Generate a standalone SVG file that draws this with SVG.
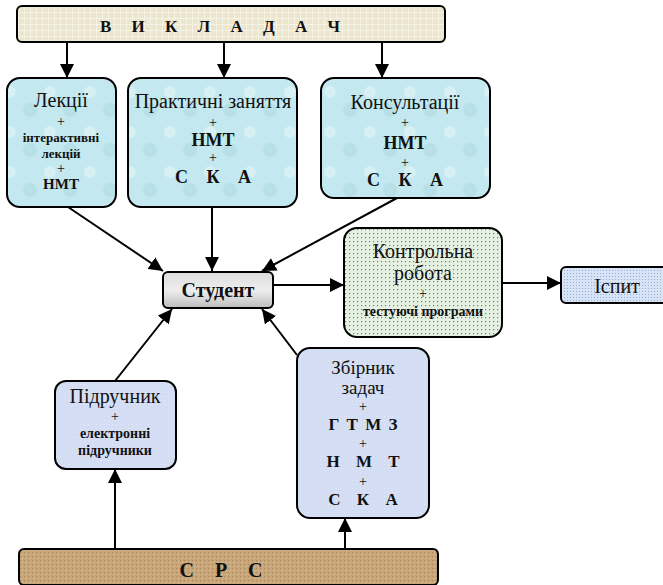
<svg xmlns="http://www.w3.org/2000/svg" width="663" height="585" viewBox="0 0 663 585">
<style>
.box{stroke:#000;stroke-width:2}
.t{font-family:"Liberation Serif","Times New Roman",serif;fill:#111;text-anchor:middle}
.n{font-size:20px}
.b{font-weight:bold}
.conn line{stroke:#000;stroke-width:2;marker-end:url(#arr)}
</style>
<defs>
<marker id="arr" markerUnits="userSpaceOnUse" markerWidth="14" markerHeight="14" refX="14" refY="7" orient="auto" viewBox="0 0 14 14">
<path d="M0,0 L14,7 L0,14 z" fill="#000"/>
</marker>
<pattern id="beige" width="6" height="6" patternUnits="userSpaceOnUse">
<rect width="6" height="6" fill="#ede6cf"/>
<path d="M0,0.5H6M0.5,0V6" stroke="#f7f3e4" stroke-width="1"/>
</pattern>
<pattern id="cyan" width="40" height="40" patternUnits="userSpaceOnUse">
<rect width="40" height="40" fill="#c3e8ef"/>
<circle cx="10" cy="12" r="6" fill="#d6f0f4"/>
<circle cx="30" cy="30" r="7" fill="#b7e0e8"/>
</pattern>
<linearGradient id="gray" x1="0" y1="0" x2="0" y2="1">
<stop offset="0" stop-color="#dcdcdc"/>
<stop offset="0.5" stop-color="#eeeeee"/>
<stop offset="1" stop-color="#bdbdbd"/>
</linearGradient>
<pattern id="green" width="4" height="4" patternUnits="userSpaceOnUse">
<rect width="4" height="4" fill="#e6f1e3"/>
<rect x="1" y="1" width="1.2" height="1.2" fill="#4a9a4a"/>
</pattern>
<pattern id="blue" width="3" height="3" patternUnits="userSpaceOnUse">
<rect width="3" height="3" fill="#d8e4f6"/>
<rect width="1" height="1" fill="#8fb0e0"/>
</pattern>
<pattern id="lav" width="4" height="4" patternUnits="userSpaceOnUse">
<rect width="4" height="4" fill="#d3def5"/>
<rect width="1" height="1" fill="#e3e6f8"/>
</pattern>
<pattern id="brown" width="4" height="4" patternUnits="userSpaceOnUse">
<rect width="4" height="4" fill="#c9a679"/>
<rect width="1" height="1" fill="#a8855a"/>
<rect x="2" y="2" width="1" height="1" fill="#ddc29a"/>
</pattern>
</defs>

<g id="vykladach">
<rect class="box" x="17" y="6" width="428" height="36" rx="5" fill="url(#beige)"/>
<text class="t b" x="220" y="32" font-size="17" word-spacing="16" xml:space="preserve">В И К Л А Д А Ч</text>
</g>

<g id="lektsii">
<rect class="box" x="7" y="78" width="109" height="129" rx="13" fill="url(#cyan)"/>
<text class="t n" x="61" y="107">Лекції</text>
<text class="t" x="61" y="126" font-size="14">+</text>
<text class="t b" x="61" y="142" font-size="13">інтерактивні</text>
<text class="t b" x="61" y="158" font-size="13">лекцій</text>
<text class="t" x="61" y="173" font-size="14">+</text>
<text class="t b" x="61" y="189" font-size="15">НМТ</text>
</g>

<g id="praktychni">
<rect class="box" x="128" y="78" width="169" height="129" rx="13" fill="url(#cyan)"/>
<text class="t n" x="213" y="108">Практичні заняття</text>
<text class="t" x="213" y="127" font-size="14">+</text>
<text class="t b" x="213" y="146" font-size="18">НМТ</text>
<text class="t" x="213" y="162" font-size="14">+</text>
<text class="t b" x="213" y="183" font-size="18" word-spacing="14" xml:space="preserve">С К А</text>
</g>

<g id="konsultatsii">
<rect class="box" x="321" y="78" width="169" height="120" rx="13" fill="url(#cyan)"/>
<text class="t n" x="405" y="109">Консультації</text>
<text class="t" x="405" y="127" font-size="14">+</text>
<text class="t b" x="405" y="149" font-size="18">НМТ</text>
<text class="t" x="405" y="167" font-size="14">+</text>
<text class="t b" x="405" y="186" font-size="18" word-spacing="14" xml:space="preserve">С К А</text>
</g>

<g id="student">
<rect class="box" x="163" y="272" width="110" height="36" rx="5" fill="url(#gray)"/>
<text class="t b" x="218" y="297" font-size="20">Студент</text>
</g>

<g id="kontrolna">
<rect class="box" x="344" y="228" width="158" height="109" rx="13" fill="url(#green)"/>
<text class="t n" x="423" y="258">Контрольна</text>
<text class="t n" x="423" y="280">робота</text>
<text class="t" x="423" y="298" font-size="14">+</text>
<text class="t b" x="423" y="316" font-size="14">тестуючі програми</text>
</g>

<g id="ispyt">
<rect class="box" x="561" y="267" width="110" height="36" rx="5" fill="url(#blue)"/>
<text class="t n" x="617" y="293">Іспит</text>
</g>

<g id="pidruchnyk">
<rect class="box" x="55" y="381" width="121" height="88" rx="11" fill="url(#lav)"/>
<text class="t n" x="115" y="403">Підручник</text>
<text class="t" x="115" y="421" font-size="14">+</text>
<text class="t b" x="115" y="438" font-size="14">електронні</text>
<text class="t b" x="115" y="455" font-size="14">підручники</text>
</g>

<g id="zbirnyk">
<rect class="box" x="297" y="348" width="132" height="170" rx="13" fill="url(#lav)"/>
<text class="t" x="363" y="374" font-size="19">Збірник</text>
<text class="t" x="363" y="394" font-size="19">задач</text>
<text class="t" x="363" y="411" font-size="14">+</text>
<text class="t b" x="363" y="430" font-size="17" word-spacing="3" xml:space="preserve">Г Т М З</text>
<text class="t" x="363" y="448" font-size="14">+</text>
<text class="t b" x="363" y="467" font-size="17" word-spacing="12" xml:space="preserve">Н М Т</text>
<text class="t" x="363" y="486" font-size="14">+</text>
<text class="t b" x="363" y="505" font-size="17" word-spacing="12" xml:space="preserve">С К А</text>
</g>

<g id="srs">
<rect class="box" x="19" y="549" width="419" height="36" rx="5" fill="url(#brown)"/>
<text class="t b" x="221" y="577" font-size="20" word-spacing="16" xml:space="preserve">С Р С</text>
</g>

<g id="connectors" class="conn">
<line x1="67" y1="42" x2="67" y2="78"/>
<line x1="224" y1="42" x2="224" y2="78"/>
<line x1="382" y1="42" x2="382" y2="78"/>
<line x1="68" y1="207" x2="163" y2="271"/>
<line x1="212" y1="207" x2="212" y2="271"/>
<line x1="397" y1="198" x2="262" y2="271"/>
<line x1="273" y1="285" x2="344" y2="285"/>
<line x1="502" y1="283" x2="561" y2="283"/>
<line x1="115" y1="381" x2="172" y2="309"/>
<line x1="297" y1="355" x2="262" y2="309"/>
<line x1="115" y1="549" x2="115" y2="469"/>
<line x1="345" y1="549" x2="345" y2="518"/>
</g>
</svg>
